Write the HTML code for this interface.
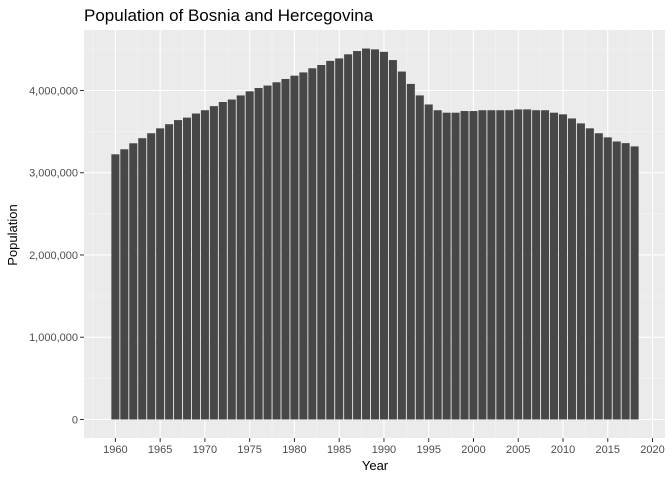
<!DOCTYPE html>
<html><head><meta charset="utf-8"><style>
body{margin:0;background:#fff}
svg{display:block;font-family:"Liberation Sans",Arial,sans-serif}
</style></head><body>
<svg id="chart" width="672" height="480">
<text x="84" y="21" font-size="17" fill="#000">Population of Bosnia and Hercegovina</text>
<rect x="84" y="30" width="581" height="408" fill="#ebebeb"/>
<g id="grid"></g><g id="bars"></g><g id="axes"></g>
<text x="375" y="470" font-size="13" text-anchor="middle" fill="#000">Year</text>
<text transform="translate(17,235) rotate(-90)" font-size="13" text-anchor="middle" fill="#000">Population</text>
</svg>
<script>
const years=[];for(let y=1960;y<=2018;y++)years.push(y);
const population=[3.224,3.285,3.358,3.42,3.48,3.54,3.59,3.64,3.67,3.72,3.76,3.81,3.86,3.89,3.94,3.99,4.03,4.06,4.10,4.14,4.18,4.22,4.27,4.31,4.36,4.39,4.44,4.48,4.51,4.50,4.47,4.37,4.23,4.08,3.94,3.83,3.76,3.73,3.73,3.75,3.75,3.76,3.76,3.76,3.76,3.77,3.77,3.76,3.76,3.73,3.71,3.66,3.60,3.54,3.48,3.43,3.38,3.36,3.32];
const yTicks=[0,1000000,2000000,3000000,4000000];
const xTicks=[1960,1965,1970,1975,1980,1985,1990,1995,2000,2005,2010,2015,2020];
const NS='http://www.w3.org/2000/svg';
const L=85,R=665,T=30,B=438;
const xmin=1959.55-2.945,xmax=2018.45+2.945;
const ymax=4.51e6*1.05,ymin=-4.51e6*0.05;
const sx=v=>L+(v-xmin)/(xmax-xmin)*(R-L);
const sy=v=>B-(v-ymin)/(ymax-ymin)*(B-T);
function mk(tag,a,p){const e=document.createElementNS(NS,tag);for(const k in a)e.setAttribute(k,a[k]);p.appendChild(e);return e;}
const grid=document.getElementById('grid'),bars=document.getElementById('bars'),axes=document.getElementById('axes');
for(let v=500000;v<ymax;v+=1000000){const l=mk('line',{x1:84,x2:R,y1:sy(v),y2:sy(v),stroke:'#f5f5f5','stroke-width':0.6},grid);
}
for(let v=1957.5;v<xmax;v+=5){const l=mk('line',{x1:sx(v),x2:sx(v),y1:T,y2:B,stroke:'#f5f5f5','stroke-width':0.6},grid);
}
yTicks.forEach(v=>{const y=sy(v);
const l=mk('line',{x1:84,x2:R,y1:y,y2:y,stroke:'#fff','stroke-width':1.1},grid);

const t=mk('line',{x1:80,x2:84,y1:y,y2:y,stroke:'#333','stroke-width':1},axes);

const tx=mk('text',{x:78,y:y+4,'font-size':11,'text-anchor':'end',fill:'#4d4d4d'},axes);tx.textContent=v.toLocaleString('en-US');
});
xTicks.forEach(v=>{const x=sx(v);
const l=mk('line',{x1:x,x2:x,y1:T,y2:B,stroke:'#fff','stroke-width':1.1},grid);

const t=mk('line',{x1:x,x2:x,y1:B,y2:B+4,stroke:'#333','stroke-width':1},axes);

const tx=mk('text',{x:x,y:B+15,'font-size':11,'text-anchor':'middle',fill:'#4d4d4d'},axes);tx.textContent=v;
});
years.forEach((yr,i)=>{const v=population[i]*1e6;const x0=sx(yr-0.45),x1=sx(yr+0.45);
const r=mk('rect',{x:x0,y:sy(v),width:x1-x0,height:sy(0)-sy(v),fill:'#474747'},bars);
});
</script>
</body></html>
